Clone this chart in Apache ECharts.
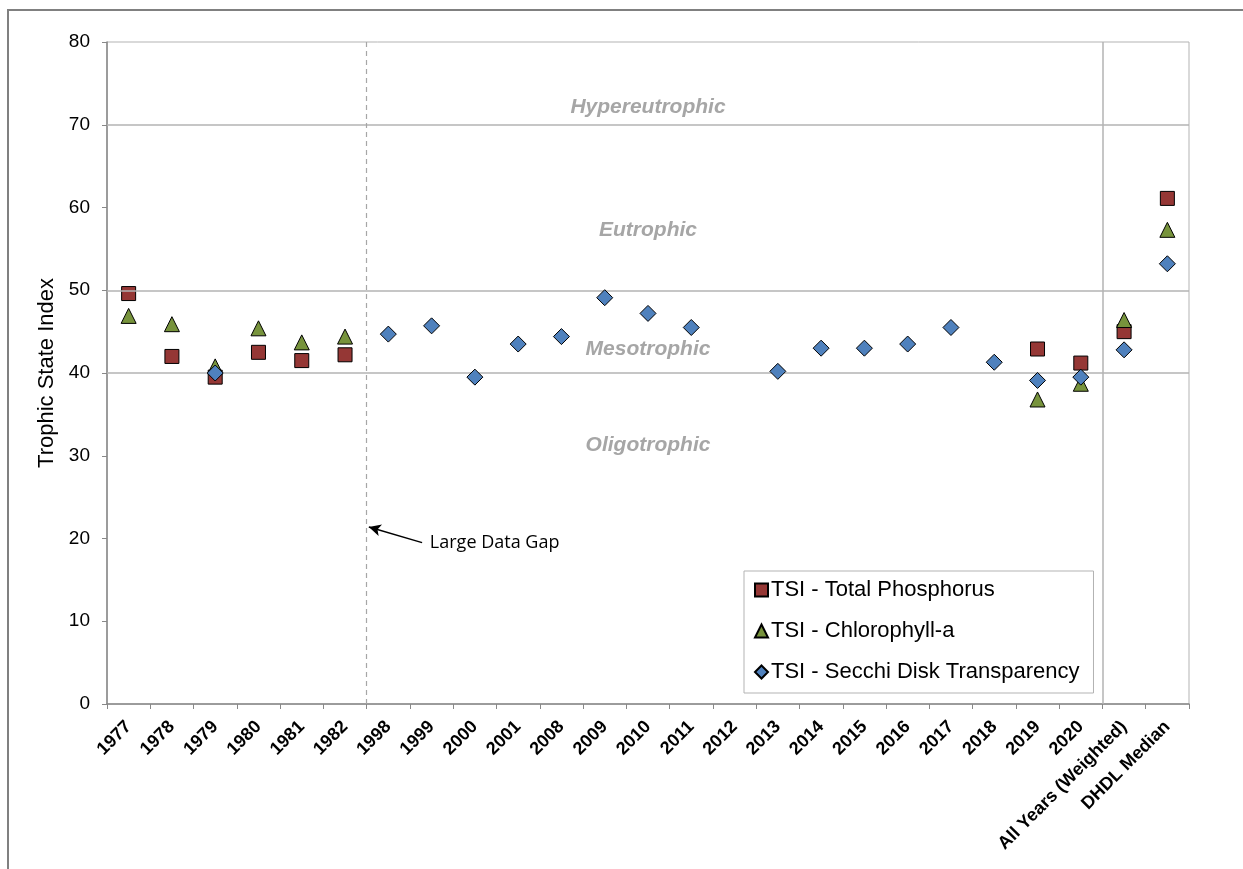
<!DOCTYPE html>
<html>
<head>
<meta charset="utf-8">
<script src="https://cdn.jsdelivr.net/npm/echarts@6/dist/echarts.min.js"></script>
<style>
  html, body { margin: 0; padding: 0; background: #fff; }
  #chart { width: 1243px; height: 869px; }
</style>
</head>
<body>
<div id="chart"></div>
<script>
// categories on the x axis
const categories = ['1977', '1978', '1979', '1980', '1981', '1982', '1998', '1999', '2000', '2001',
  '2008', '2009', '2010', '2011', '2012', '2013', '2014', '2015', '2016', '2017', '2018', '2019', '2020',
  'All Years (Weighted)', 'DHDL Median']

// TSI values (null = no sample)
const tsiPhosphorus = [49.6, 42.0, 39.5, 42.5, 41.5, 42.2,
  null, null, null, null, null, null, null, null, null, null, null, null, null, null, null,
  42.9, 41.2, 45.0, 61.1]
const tsiChlorophyll = [46.9, 45.9, 40.8, 45.4, 43.7, 44.4,
  null, null, null, null, null, null, null, null, null, null, null, null, null, null, null,
  36.8, 38.7, 46.4, 57.3]
const tsiSecchi = [null, null, 40.0, null, null, null, 44.7, 45.7, 39.5, 43.5, 44.4, 49.1, 47.2, 45.5,
  null, 40.2, 43.0, 43.0, 43.5, 45.5, 41.3, 39.1, 39.5, 42.8, 53.2]

// trophic class boundaries and labels
const classLines = [40, 50, 70]
const classNames = ['Hypereutrophic', 'Eutrophic', 'Mesotrophic', 'Oligotrophic']
const classLabelY = [72.1, 57.3, 42.9, 31.3]

const chart = echarts.init(document.getElementById('chart'))

const markerStyle = (color) => ({ color: color, borderColor: '#000', borderWidth: 1, opacity: 1 })

chart.setOption({
  animation: false,
  textStyle: { fontFamily: 'Liberation Sans, Arial, sans-serif' },
  graphic: [{
    type: 'rect',
    shape: { x: 8, y: 10, width: 1300, height: 900 },
    style: { fill: 'none', stroke: '#808080', lineWidth: 2 },
    silent: true
  }],
  grid: {
    left: 107, right: 54, top: 42, bottom: 165,
    show: true, borderColor: '#b3b3b3', borderWidth: 1
  },
  legend: {
    orient: 'vertical',
    left: 744, top: 571,
    padding: [8, 14, 10, 10],
    itemGap: 19,
    itemWidth: 13, itemHeight: 13,
    backgroundColor: '#fff',
    borderColor: '#b3b3b3', borderWidth: 1,
    textStyle: { fontSize: 22, color: '#000', padding: [0, 0, 0, -2] },
    data: ['TSI - Total Phosphorus', 'TSI - Chlorophyll-a', 'TSI - Secchi Disk Transparency']
  },
  xAxis: [{
    type: 'category',
    data: categories,
    boundaryGap: true,
    axisLine: { lineStyle: { color: '#888', width: 1.5 } },
    axisTick: { show: true, length: 5, lineStyle: { color: '#888' } },
    axisLabel: { rotate: 45, fontSize: 18, fontWeight: 'bold', color: '#000', margin: 20, interval: 0 },
    splitLine: { show: false }
  }, {
    type: 'value', min: 0, max: categories.length, show: false
  }],
  yAxis: {
    type: 'value',
    min: 0, max: 80, interval: 10,
    name: 'Trophic State Index',
    nameLocation: 'middle',
    nameGap: 48,
    nameTextStyle: { fontSize: 22, color: '#000' },
    axisLine: { show: true, lineStyle: { color: '#888', width: 1.5 } },
    axisTick: { show: true, length: 5, lineStyle: { color: '#888' } },
    axisLabel: { fontSize: 19, color: '#000', margin: 17 },
    splitLine: { show: false }
  },
  series: [
    {
      // reference lines and notes
      type: 'scatter',
      xAxisIndex: 1,
      data: [],
      silent: true,
      z: 1,
      markLine: {
        silent: true,
        symbol: 'none',
        label: { show: false },
        animation: false,
        data: [
          ...classLines.map(v => ({ yAxis: v, lineStyle: { color: '#b3b3b3', width: 1.5, type: 'solid' } })),
          { xAxis: 6, lineStyle: { color: '#a6a6a6', width: 1.2, type: [5, 4] } },
          { xAxis: 23, lineStyle: { color: '#b3b3b3', width: 1.5, type: 'solid' } },
          [
            { coord: [7.28, 19.5], symbol: 'none', lineStyle: { color: '#000', width: 1.5, type: 'solid' } },
            { coord: [6.05, 21.4], symbol: 'arrow', symbolSize: [9, 12] }
          ]
        ]
      },
      markPoint: {
        silent: true,
        symbol: 'rect',
        symbolSize: 0,
        data: [
          ...classNames.map((n, i) => ({
            coord: [categories.length / 2, classLabelY[i]],
            label: { show: true, formatter: n, fontSize: 21, fontWeight: 'bold', fontStyle: 'italic', color: '#a6a6a6' }
          })),
          {
            coord: [7.46, 19.5],
            label: { show: true, formatter: 'Large Data Gap', position: 'right', distance: 0, fontSize: 18, color: '#000', fontFamily: 'Open Sans, sans-serif' }
          }
        ]
      }
    },
    {
      name: 'TSI - Total Phosphorus',
      type: 'scatter',
      symbol: 'rect',
      symbolSize: 14,
      itemStyle: markerStyle('#953735'),
      data: tsiPhosphorus,
      z: 3
    },
    {
      name: 'TSI - Chlorophyll-a',
      type: 'scatter',
      symbol: 'triangle',
      symbolSize: 15,
      itemStyle: markerStyle('#77933c'),
      data: tsiChlorophyll,
      z: 4
    },
    {
      name: 'TSI - Secchi Disk Transparency',
      type: 'scatter',
      symbol: 'diamond',
      symbolSize: 16,
      itemStyle: markerStyle('#4f81bd'),
      data: tsiSecchi,
      z: 5
    }
  ]
})
</script>
</body>
</html>
